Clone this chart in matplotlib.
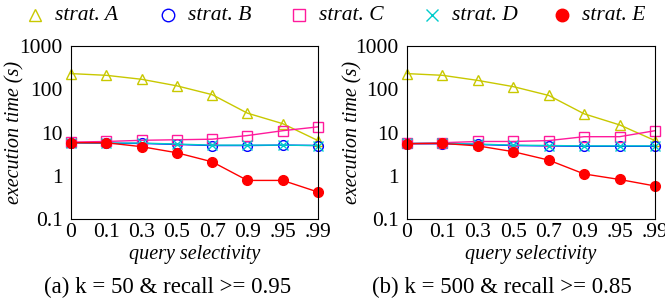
import matplotlib.pyplot as plt
from matplotlib.lines import Line2D

plt.rcParams['font.family'] = ['Liberation Serif', 'DejaVu Serif']

# query selectivity categories
selectivity = ['0', '0.1', '0.3', '0.5', '0.7', '0.9', '.95', '.99']

# (a) k = 50 & recall >= 0.95
a_A = [230, 210, 170, 120, 75, 28, 16, 6.5]
a_B = [5.8, 5.6, 5.6, 5.3, 5.0, 5.0, 5.1, 5.0]
a_C = [6.0, 6.2, 6.6, 6.8, 7.0, 8.5, 11, 13.5]
a_D = [5.8, 5.7, 5.7, 5.4, 5.1, 5.1, 5.1, 5.0]
a_E = [5.8, 5.8, 4.7, 3.4, 2.1, 0.78, 0.78, 0.42]

# (b) k = 500 & recall >= 0.85
b_A = [230, 210, 160, 115, 72, 27, 15, 6.5]
b_B = [5.5, 5.5, 5.3, 5.0, 4.9, 4.8, 4.8, 4.8]
b_C = [5.6, 5.8, 6.2, 6.2, 6.5, 8.0, 8.0, 11]
b_D = [5.6, 5.6, 5.4, 5.1, 5.0, 4.9, 4.9, 4.9]
b_E = [5.5, 5.6, 4.9, 3.6, 2.3, 1.1, 0.82, 0.58]

labels = ['strat. A', 'strat. B', 'strat. C', 'strat. D', 'strat. E']
colors = ['#c8c800', '#0000ff', '#ff1a9c', '#00cccc', '#ff0000']
markers = ['^', 'o', 's', 'x', 'o']
fills = ['none', 'none', 'none', 'full', 'full']

W, H = 665, 302
fig = plt.figure(figsize=(W / 100, H / 100), dpi=100)
ax1 = fig.add_axes([71 / W, 1 - 219 / H, 247 / W, 173 / H])
ax2 = fig.add_axes([407 / W, 1 - 219 / H, 248 / W, 173 / H])

x = list(range(len(selectivity)))


def draw(ax, series, caption, cap_x, ylab_x):
    for ys, c, m, f in zip(series, colors, markers, fills):
        mfc = 'none' if f == 'none' else c
        ax.plot(x, ys, color=c, marker=m, markersize=7, markerfacecolor=mfc,
                markeredgecolor=c, markeredgewidth=1.0, linewidth=1.0, clip_on=False)
    ax.set_yscale('log')
    ax.set_ylim(0.1, 1000)
    ax.set_xlim(0, 7)
    ax.set_xticks(x)
    ax.set_xticklabels(selectivity)
    ax.set_yticks([0.1, 1, 10, 100, 1000])
    ax.set_yticklabels(['0.1', '1', '10', '100', '1000'])
    ax.minorticks_off()
    ax.tick_params(labelsize=15.5, length=0)
    ax.tick_params(axis='x', pad=3)
    ax.tick_params(axis='y', pad=6)
    ax.set_xlabel('query selectivity', fontsize=14.5, style='italic', labelpad=2)
    ax.set_ylabel('execution time (s)', fontsize=14.5, style='italic')
    ax.yaxis.set_label_coords(ylab_x, 0.5)
    fig.text(cap_x / W, 1 - 287 / H, caption, ha='center', va='center', fontsize=16.5)


draw(ax1, [a_A, a_B, a_C, a_D, a_E], '(a) k = 50 & recall >= 0.95', 168, -0.19)
draw(ax2, [b_A, b_B, b_C, b_D, b_E], '(b) k = 500 & recall >= 0.85', 502, -0.18)

# legend row across the top
leg_x = [35, 168, 299, 432, 562]
for lx, lab, c, m, f in zip(leg_x, labels, colors, markers, fills):
    mfc = 'none' if f == 'none' else c
    fig.add_artist(Line2D([lx / W], [1 - 15 / H], transform=fig.transFigure,
                          linestyle='none', marker=m, markersize=9, color=c,
                          markerfacecolor=mfc, markeredgecolor=c))
    fig.text((lx + 20) / W, 1 - 15 / H, lab, ha='left', va='center',
             fontsize=15.5, style='italic')

fig.savefig('out.png', dpi=100)
